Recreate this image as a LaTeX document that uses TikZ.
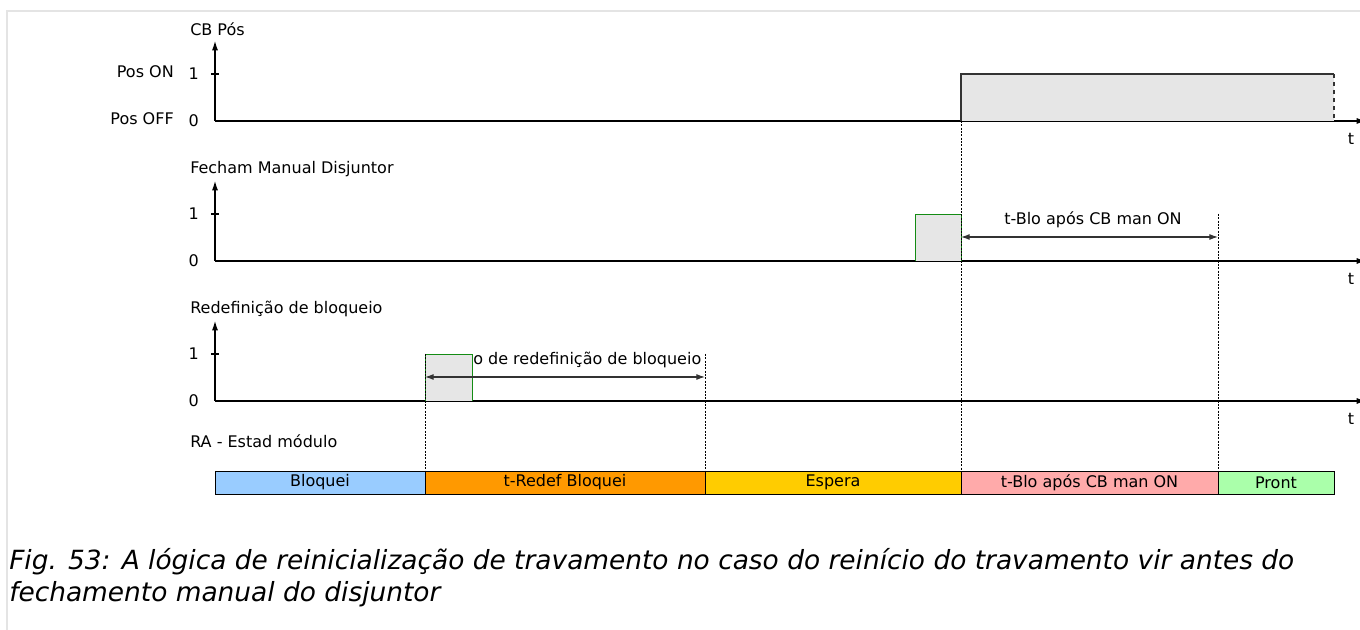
\documentclass[tikz,border=0pt]{standalone}
\usepackage{fontspec}
\setmainfont{DejaVu Sans}
\usetikzlibrary{arrows.meta,positioning}
\definecolor{framegray}{RGB}{228,228,228}
\definecolor{sigfill}{RGB}{230,230,230}
\definecolor{siggreen}{RGB}{20,140,20}
\definecolor{stblue}{RGB}{153,204,255}
\definecolor{storange}{RGB}{255,153,0}
\definecolor{styellow}{RGB}{255,204,0}
\definecolor{stpink}{RGB}{255,170,170}
\definecolor{stgreen}{RGB}{170,255,170}

\begin{document}
\begin{tikzpicture}[
    x=0.75pt, y=-0.75pt,
    font=\fontsize{12}{14}\selectfont,
    axis/.style={-{Latex[length=7pt,width=4.5pt]}, line width=0.8pt},
    dim/.style={{Latex[length=6.5pt,width=4.5pt]}-{Latex[length=6.5pt,width=4.5pt]}, line width=0.8pt, black!80},
    guide/.style={dash pattern=on 1.5pt off 1pt, line width=0.4pt},
    lbl/.style={inner sep=0pt, anchor=west},
    val/.style={inner sep=0pt, anchor=east},
    state/.style={draw, line width=0.6pt, inner sep=0pt, outer sep=0pt, minimum height=17.25pt, anchor=west},
    pulse/.style={draw=siggreen, fill=sigfill, line width=0.6pt}
]
\useasboundingbox (0,0) rectangle (1360,630);
\draw[framegray, line width=1.5pt] (7,630) -- (7,11) -- (1362,11);

% axes
\coordinate (o1) at (215,121);
\coordinate (o2) at (215,261);
\coordinate (o3) at (215,401);
\draw[axis] (o1) -- ++(0,-80);
\draw[axis] (o1) -- (1366,121);
\draw[axis] (o2) -- ++(0,-80);
\draw[axis] (o2) -- (1366,261);
\draw[axis] (o3) -- ++(0,-80);
\draw[axis] (o3) -- (1366,401);
\foreach \y in {74,214,354} \draw[line width=0.8pt] (211,\y) -- (219,\y);

\node[lbl] (cbpos) at (190,29) {CB Pós};
\node[lbl] (fecham) at (190,169) {Fecham Manual Disjuntor};
\node[lbl] (redef) at (190,309) {Redefinição de bloqueio};
\node[lbl] (estad) at (190,441) {RA - Estad módulo};

\node[val] (one1) at (199,74) {1};
\node[val] (zero1) at (199,121) {0};
\node[val] (one2) at (199,214) {1};
\node[val] (zero2) at (199,261) {0};
\node[val] (one3) at (199,354) {1};
\node[val] (zero3) at (199,401) {0};
\node[val] (poson) at (174,72) {Pos ON};
\node[val] (posoff) at (174,119) {Pos OFF};

\node (t1) at (1351,139) {t};
\node (t2) at (1351,279) {t};
\node (t3) at (1351,419) {t};

% signals
\fill[sigfill] (961,74) rectangle (1334,121);
\draw[line width=0.8pt, black!80] (961,121) -- (961,74) -- (1334,74);
\draw[black!80, dashed, line width=0.8pt] (1334,74) -- (1334,121);
\draw[pulse] (915,261) -- (915,214) -- (961,214) -- (961,261);
\draw[pulse] (425,401) -- (425,354) -- (472,354) -- (472,401);

% guides
\draw[guide] (961,121) -- (961,471);
\draw[guide] (1218,214) -- (1218,471);
\draw[guide] (425,354) -- (425,471);
\draw[guide] (705,354) -- (705,471);

\coordinate (b1) at (961,237);
\coordinate (b2) at (1218,237);
\draw[dim] (b1) -- (b2);
\node (tblo) at (1093,220) {t-Blo após CB man ON};
\coordinate (r1) at (425,377);
\coordinate (r2) at (705,377);
\draw[dim] (r1) -- (r2);
\node[lbl] (tredef) at (473,360) {o de redefinição de bloqueio};

% state bar
\node[state, fill=stblue, minimum width=157.5pt] (bloq) at (215,482.5) {Bloquei};
\node[state, fill=storange, minimum width=210pt, right=0pt of bloq] (tred) {t-Redef Bloquei};
\node[state, fill=styellow, minimum width=192pt, right=0pt of tred] (espera) {Espera};
\node[state, fill=stpink, minimum width=192.75pt, right=0pt of espera] (tblost) {t-Blo após CB man ON};
\node[state, fill=stgreen, minimum width=87pt, right=0pt of tblost] (pront) {Pront};

% caption
\node[anchor=north west, align=left, inner sep=0pt, font=\fontsize{19.8}{24}\selectfont\itshape] (cap) at (9,548)
  {Fig. 53: A lógica de reinicialização de travamento no caso do reinício do travamento vir antes do\\fechamento manual do disjuntor};
\end{tikzpicture}
\end{document}
